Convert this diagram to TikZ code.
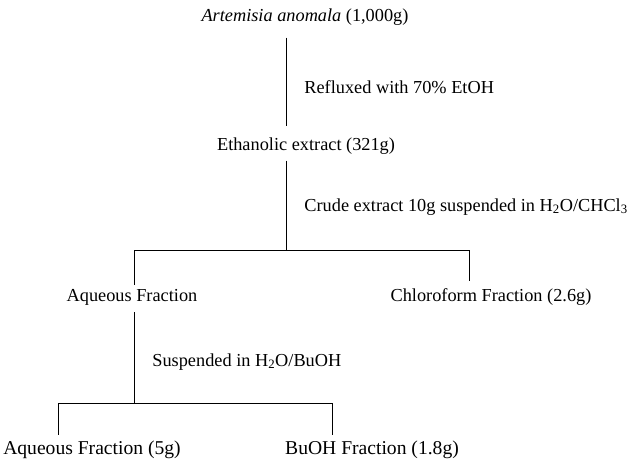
\documentclass[tikz,border=0pt]{standalone}
\usepackage{fontspec}
\setmainfont{Liberation Serif}
\begin{document}
\begin{tikzpicture}[x=1pt,y=-1pt,line width=0.8pt,
    every node/.style={inner sep=0pt,font=\fontsize{18.3}{22}\selectfont},
    step label/.style={anchor=west},
    last row/.style={font=\fontsize{19.6}{23}\selectfont}]
    \useasboundingbox (0,0) rectangle (632,460);
    % fractions
    \node at (305,17) (art) {\textit{Artemisia anomala} (1,000g)};
    \node at (306,146) (eth) {Ethanolic extract (321g)};
    \node at (132,297) (aq) {Aqueous Fraction};
    \node at (491,297) (chl) {Chloroform Fraction (2.6g)};
    \node[last row] at (92,450) (aqf) {Aqueous Fraction (5g)};
    \node[last row] at (372,450) (bu) {BuOH Fraction (1.8g)};
    % steps
    \node[step label] at (304,87) (reflux) {Refluxed with 70\% EtOH};
    \node[step label] at (304,207) (crude) {Crude extract 10g suspended in H\textsubscript{2}O/CHCl\textsubscript{3}};
    \node[step label] at (152,362) (susp) {Suspended in H\textsubscript{2}O/BuOH};
    % branch points
    \coordinate (j1) at (286,250);
    \coordinate (c1) at (469,250);
    \coordinate (b1) at (58,403);
    \coordinate (b2) at (332,403);

    \draw[shorten <=12pt,shorten >=11pt] (art.south -| j1) -- (eth.north -| j1);
    \draw[shorten <=6pt] (eth.south -| j1) -- (j1);
    \draw[shorten <=4pt,shorten >=7pt] (aq.north -| 134,0) |- (c1) -- (chl.north -| c1);
    \draw[shorten <=7pt] (aq.south -| 134,0) -- (b1 -| 134,0);
    \draw[shorten <=6pt,shorten >=6pt] (aqf.north -| b1) |- (b2) -- (bu.north -| b2);
\end{tikzpicture}
\end{document}
